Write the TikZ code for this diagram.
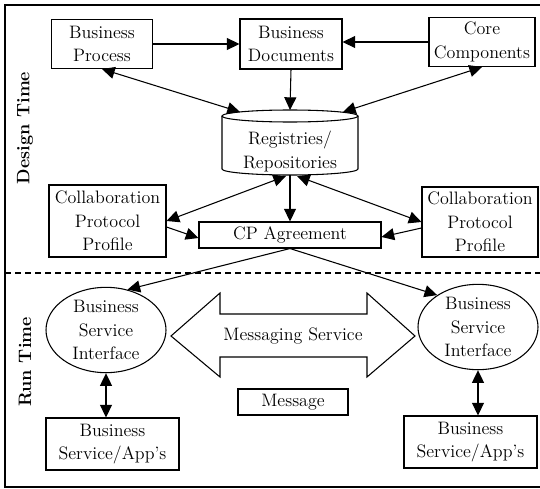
\documentclass[tikz,border=0pt]{standalone}
\usepackage{fontspec}
\usetikzlibrary{calc,arrows.meta,shapes.geometric}

\begin{document}
\begin{tikzpicture}[x=0.75pt,y=-0.75pt,line width=0.8pt,every node/.style={align=center,inner sep=1pt,font=\fontsize{13.5}{17.8}\selectfont}]

\tikzstyle{box}=[draw]
\tikzstyle{iface}=[draw,ellipse,inner sep=-4pt,minimum width=90pt,minimum height=64pt]
\tikzstyle{link}=[-{Triangle[length=9.5pt,width=9pt]}]
\tikzstyle{both}=[{Triangle[length=9.5pt,width=9pt]}-{Triangle[length=9.5pt,width=9pt]}]
\tikzstyle{side}=[rotate=90,font=\fontsize{13.5}{17.8}\selectfont\bfseries]

\useasboundingbox (0,0) rectangle (540,489);
\draw (5,5) rectangle (560,487);
\draw[dash pattern=on 4.5pt off 3pt] (5,273) -- (540,273);

\node[side] (design) at (25,128) {Design Time};
\node[side] (run) at (25,362) {Run Time};

% design time
\node[box,minimum width=75.75pt,minimum height=36.75pt] (BP) at (102,44) {Business\\Process};
\node[box,minimum width=76.5pt,minimum height=37.5pt] (BD) at (291,44) {Business\\Documents};
\node[box,minimum width=79.5pt,minimum height=36.75pt] (CC) at (482,42) {Core\\Components};

\node (reg) at (290,151.5) {Registries/\\Repositories};
\coordinate (regtop) at (290,110);
\coordinate (regbot) at (290,175);
\draw (222,116) -- (222,169) arc[start angle=180,end angle=0,x radius=68,y radius=6] -- (358,116);
\draw (290,116) ellipse[x radius=68,y radius=6];

\node[box,minimum width=87.75pt,minimum height=54pt] (CPPL) at (107.5,221) {Collaboration\\Protocol\\Profile};
\node[box,minimum width=87pt,minimum height=52.5pt] (CPPR) at (480,222) {Collaboration\\Protocol\\Profile};
\node[box,minimum width=136.5pt,minimum height=19.5pt] (CP) at (290,235) {CP Agreement};

\draw[link] (BP.east) -- (BD.west);
\draw[link] (CC.west) -- (CC.west -| BD.east);
\draw[link] (BD.south) -- (regtop);
\draw[both] (BP.south) -- ($(regtop)+(-50,2)$);
\draw[both] (CC.south) -- ($(regtop)+(53,2)$);
\draw[link] (regbot) -- (CP.north);
\draw[both] ($(regbot)+(-4,1)$) -- (CPPL.east);
\draw[both] ($(regbot)+(7,1)$) -- (CPPR.west);
\draw[link] ($(CPPL.east)+(0,6)$) -- ($(CP.west)+(0,3)$);
\draw[link] ($(CPPR.west)+(0,6)$) -- ($(CP.east)+(0,2)$);

% run time
\node[iface] (BSIL) at (106,330) {Business\\Service\\Interface};
\node[iface] (BSIR) at (478,327) {Business\\Service\\Interface};
\node[box,minimum width=99.75pt,minimum height=39pt] (BSAL) at (112.5,444) {Business\\Service/App's};
\node[box,minimum width=99.75pt,minimum height=39pt] (BSAR) at (470.5,442) {Business\\Service/App's};

\node (MS) at (293,336) {Messaging Service};
\draw (171,336) -- (220,293) -- (220,314) -- (367,314) -- (367,293) -- (415,336)
  -- (367,377) -- (367,357) -- (220,357) -- (220,377) -- cycle;
\node[box,minimum width=82.5pt,minimum height=19.5pt] (msg) at (293,402) {Message};

\draw[link] (CP.south) -- (BSIL.62);
\draw[link] (CP.south) -- (BSIR.142);
\foreach \s in {L,R} {
    \draw[both] (BSI\s.south) -- (BSI\s.south |- BSA\s.north);
}
\end{tikzpicture}
\end{document}
